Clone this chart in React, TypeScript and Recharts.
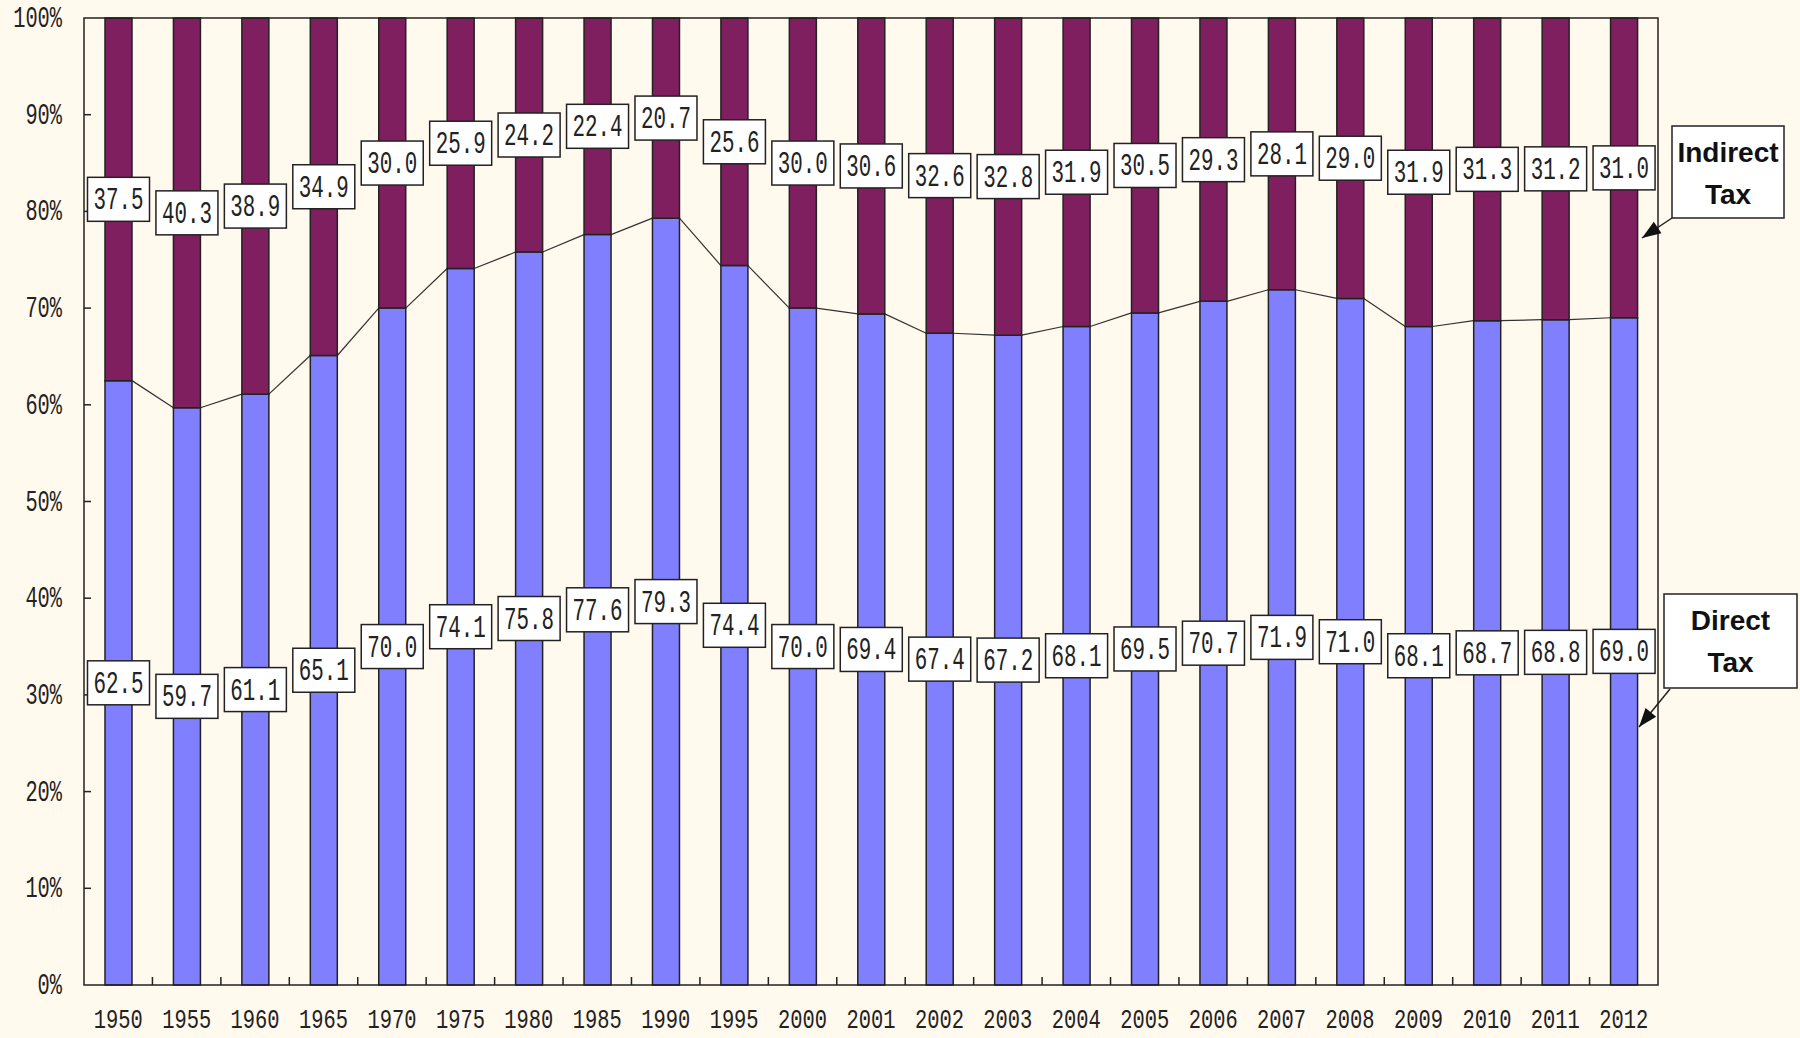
import React from 'react';
import { BarChart, Bar, XAxis, YAxis, LabelList, Rectangle } from 'recharts';

const years = [
  '1950', '1955', '1960', '1965', '1970', '1975', '1980', '1985', '1990', '1995', '2000', '2001',
  '2002', '2003', '2004', '2005', '2006', '2007', '2008', '2009', '2010', '2011', '2012',
];
const directTax = [
  62.5, 59.7, 61.1, 65.1, 70.0, 74.1, 75.8, 77.6, 79.3, 74.4, 70.0, 69.4,
  67.4, 67.2, 68.1, 69.5, 70.7, 71.9, 71.0, 68.1, 68.7, 68.8, 69.0,
];
const indirectTax = [
  37.5, 40.3, 38.9, 34.9, 30.0, 25.9, 24.2, 22.4, 20.7, 25.6, 30.0, 30.6,
  32.6, 32.8, 31.9, 30.5, 29.3, 28.1, 29.0, 31.9, 31.3, 31.2, 31.0,
];
const yTicks = [0, 10, 20, 30, 40, 50, 60, 70, 80, 90, 100];

const data = years.map((year, i) => ({ year, direct: directTax[i], indirect: indirectTax[i] }));

const W = 1800;
const H = 1038;
const PLOT_L = 84;
const PLOT_R = 1658;
const PLOT_T = 18;
const PLOT_B = 985;
const STEP = (PLOT_R - PLOT_L) / years.length;

const BG = '#FFF9EE';
const EDGE = '#222';
const MONO = '"Liberation Mono", "DejaVu Sans Mono", monospace';

function YTick(props: any) {
  const { y, payload } = props;
  const label = `${payload.value}%`;
  return (
    <g>
      {payload.value > 0 && payload.value < 100 && (
        <line x1={PLOT_L} x2={PLOT_L + 7} y1={y} y2={y} stroke={EDGE} strokeWidth={1.5} />
      )}
      <text
        x={62}
        y={y + 9}
        textAnchor="end"
        fontFamily={MONO}
        fontSize={29}
        fill="#222"
        textLength={label.length * 12.2}
        lengthAdjust="spacingAndGlyphs"
      >
        {label}
      </text>
    </g>
  );
}

function XTick(props: any) {
  const { x, payload, index } = props;
  return (
    <g>
      {index < years.length - 1 && (
        <line x1={x + STEP / 2} x2={x + STEP / 2} y1={PLOT_B} y2={PLOT_B - 8} stroke={EDGE} strokeWidth={1.5} />
      )}
      <text
        x={x}
        y={PLOT_B + 43}
        textAnchor="middle"
        fontFamily={MONO}
        fontSize={28}
        fill="#222"
        textLength={49}
        lengthAdjust="spacingAndGlyphs"
      >
        {payload.value}
      </text>
    </g>
  );
}

function BoxLabel(props: any) {
  const { x, y, width, height, value } = props;
  const cx = x + width / 2;
  const cy = y + height / 2;
  return (
    <g>
      <rect x={cx - 31} y={cy - 22} width={62} height={44} fill="#fff" stroke={EDGE} strokeWidth={1.5} />
      <text
        x={cx}
        y={cy + 10}
        textAnchor="middle"
        fontFamily={MONO}
        fontSize={31}
        fill="#222"
        textLength={50}
        lengthAdjust="spacingAndGlyphs"
      >
        {Number(value).toFixed(1)}
      </text>
    </g>
  );
}

// direct bar + the Excel style series line to the next bar
function DirectShape(props: any) {
  const { x, y, width, height, index } = props;
  const v = directTax[index];
  const next = directTax[index + 1];
  const perUnit = height / v;
  return (
    <g>
      <Rectangle x={x} y={y} width={width} height={height} fill="#8080FF" stroke={EDGE} strokeWidth={1.5} />
      {next !== undefined && (
        <line
          x1={x + width}
          y1={y}
          x2={x + STEP}
          y2={y + height - next * perUnit}
          stroke="#333"
          strokeWidth={1.2}
        />
      )}
    </g>
  );
}

function Callout({ x, y, w, h, lines, ax, ay, tx, ty }: any) {
  const ang = Math.atan2(ty - ay, tx - ax);
  const len = 20;
  const spread = 0.35;
  const p1 = [tx - len * Math.cos(ang - spread), ty - len * Math.sin(ang - spread)];
  const p2 = [tx - len * Math.cos(ang + spread), ty - len * Math.sin(ang + spread)];
  return (
    <g>
      <rect x={x} y={y} width={w} height={h} fill="#fff" stroke={EDGE} strokeWidth={1.5} />
      {lines.map((t: string, i: number) => (
        <text
          key={t}
          x={x + w / 2}
          y={y + 36 + i * 42}
          textAnchor="middle"
          fontFamily='"Liberation Sans", Arial, sans-serif'
          fontWeight="bold"
          fontSize={28}
          fill="#111"
        >
          {t}
        </text>
      ))}
      <line x1={ax} y1={ay} x2={tx} y2={ty} stroke="#222" strokeWidth={1.5} />
      <polygon points={`${tx},${ty} ${p1[0]},${p1[1]} ${p2[0]},${p2[1]}`} fill="#111" />
    </g>
  );
}

export default function App() {
  return (
    <div style={{ position: 'absolute', left: 0, top: 0, width: W, height: H, background: BG }}>
      <BarChart
        width={W}
        height={H}
        data={data}
        margin={{ top: PLOT_T, right: W - PLOT_R, bottom: 0, left: 0 }}
      >
        <XAxis
          dataKey="year"
          interval={0}
          height={H - PLOT_B}
          axisLine={false}
          tickLine={false}
          tick={<XTick />}
        />
        <YAxis
          domain={[0, 100]}
          ticks={yTicks}
          width={PLOT_L}
          axisLine={false}
          tickLine={false}
          tick={<YTick />}
        />
        <Bar
          dataKey="direct"
          stackId="tax"
          barSize={27}
          isAnimationActive={false}
          shape={(p: any) => <DirectShape {...p} />}
        >
          <LabelList dataKey="direct" content={<BoxLabel />} />
        </Bar>
        <Bar
          dataKey="indirect"
          stackId="tax"
          barSize={27}
          fill="#7F1F5F"
          stroke={EDGE}
          strokeWidth={1.5}
          isAnimationActive={false}
        >
          <LabelList dataKey="indirect" content={<BoxLabel />} />
        </Bar>
      </BarChart>
      <svg
        width={W}
        height={H}
        style={{ position: 'absolute', left: 0, top: 0, pointerEvents: 'none' }}
      >
        <rect
          x={PLOT_L}
          y={PLOT_T}
          width={PLOT_R - PLOT_L}
          height={PLOT_B - PLOT_T}
          fill="none"
          stroke={EDGE}
          strokeWidth={1.5}
        />
        <Callout x={1672} y={126} w={112} h={92} lines={['Indirect', 'Tax']} ax={1672} ay={218} tx={1642} ty={238} />
        <Callout x={1664} y={594} w={133} h={94} lines={['Direct', 'Tax']} ax={1670} ay={689} tx={1639} ty={727} />
      </svg>
    </div>
  );
}
